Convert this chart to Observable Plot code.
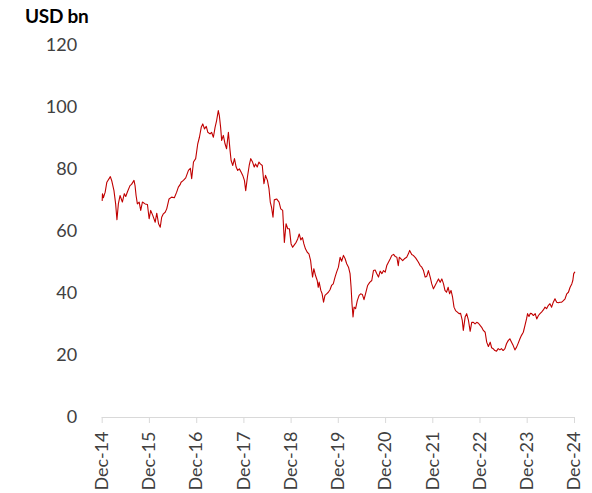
<!DOCTYPE html>
<html>
<head>
<meta charset="utf-8">
<script src="https://cdn.jsdelivr.net/npm/d3@7"></script>
<script src="https://cdn.jsdelivr.net/npm/@observablehq/plot@0.6"></script>
<style>
  html, body { margin: 0; padding: 0; background: #fff; }
  #wrap { position: relative; width: 592px; height: 493px; font-family: Lato, "Open Sans", sans-serif; }
  #title { position: absolute; left: 25px; top: 4px; font-size: 19px; font-weight: bold; color: #000; letter-spacing: -0.3px; }
  #chart { position: absolute; left: 0; top: 30px; }
</style>
</head>
<body>
<div id="wrap">
  <div id="title">USD bn</div>
  <div id="chart"></div>
</div>
<script>
const unitLabel = "USD bn";
const yTicks = [0, 20, 40, 60, 80, 100, 120];
const xTickDates = ["2014-12-01","2015-12-01","2016-12-01","2017-12-01","2018-12-01","2019-12-01","2020-12-01","2021-12-01","2022-12-01","2023-12-01","2024-12-01"];

const dates = [
"2014-12-01","2014-12-03","2014-12-10","2014-12-24","2015-01-06","2015-02-02","2015-02-14","2015-03-02","2015-03-15","2015-03-25",
"2015-04-05","2015-04-18","2015-05-06","2015-05-21","2015-06-01","2015-06-16","2015-07-04","2015-07-16","2015-08-04","2015-08-12",
"2015-08-20","2015-08-30","2015-09-13","2015-09-25","2015-10-08","2015-10-29","2015-11-16","2015-11-29","2015-12-11","2015-12-27",
"2016-01-15","2016-01-27","2016-02-10","2016-02-23","2016-03-05","2016-03-18","2016-04-01","2016-04-13","2016-05-01","2016-05-21",
"2016-06-11","2016-06-29","2016-07-12","2016-07-27","2016-08-02","2016-08-20","2016-09-07","2016-09-28","2016-10-13","2016-10-23",
"2016-11-06","2016-11-23","2016-12-09","2016-12-22","2017-01-05","2017-01-17","2017-01-30","2017-02-13","2017-02-25","2017-03-14",
"2017-03-26","2017-04-09","2017-04-22","2017-05-04","2017-05-17","2017-05-25","2017-06-04","2017-06-12","2017-06-25","2017-07-08",
"2017-07-20","2017-08-03","2017-08-16","2017-08-24","2017-09-06","2017-09-19","2017-10-02","2017-10-14","2017-10-27","2017-11-10",
"2017-11-22","2017-12-05","2017-12-15","2017-12-28","2018-01-11","2018-01-23","2018-02-06","2018-02-19","2018-03-01","2018-03-14",
"2018-03-27","2018-04-07","2018-04-22","2018-05-05","2018-05-17","2018-06-01","2018-06-13","2018-06-23","2018-07-03","2018-07-14",
"2018-07-24","2018-08-11","2018-08-30","2018-09-12","2018-09-27","2018-10-10","2018-10-23","2018-11-05","2018-11-18","2018-12-01",
"2018-12-13","2018-12-26","2019-01-09","2019-01-21","2019-02-02","2019-02-14","2019-02-27","2019-03-10","2019-03-22","2019-04-05",
"2019-04-18","2019-05-01","2019-05-08","2019-05-16","2019-05-26","2019-06-08","2019-06-21","2019-06-29","2019-07-06","2019-07-19",
"2019-07-29","2019-08-09","2019-08-20","2019-09-02","2019-09-15","2019-09-28","2019-10-10","2019-10-23","2019-11-06","2019-11-18",
"2019-12-02","2019-12-15","2019-12-27","2020-01-10","2020-01-23","2020-02-04","2020-02-18","2020-03-01","2020-03-09","2020-03-16",
"2020-03-24","2020-04-01","2020-04-13","2020-04-26","2020-05-10","2020-05-22","2020-06-04","2020-06-17","2020-06-30","2020-07-15",
"2020-07-31","2020-08-16","2020-08-29","2020-09-11","2020-09-24","2020-10-07","2020-10-20","2020-11-02","2020-11-15","2020-11-28",
"2020-12-10","2020-12-23","2021-01-06","2021-01-18","2021-02-01","2021-02-14","2021-02-26","2021-03-09","2021-03-17","2021-03-30",
"2021-04-12","2021-04-25","2021-05-13","2021-05-26","2021-06-05","2021-06-21","2021-07-03","2021-07-21","2021-08-12","2021-08-25",
"2021-09-07","2021-09-20","2021-10-03","2021-10-15","2021-10-28","2021-11-11","2021-11-23","2021-12-06","2021-12-19","2022-01-01",
"2022-01-14","2022-01-27","2022-02-09","2022-02-22","2022-03-05","2022-03-17","2022-03-30","2022-04-10","2022-04-21","2022-05-03",
"2022-05-14","2022-05-26","2022-06-09","2022-06-22","2022-07-04","2022-07-17","2022-07-25","2022-08-08","2022-08-20","2022-09-03",
"2022-09-16","2022-09-28","2022-10-11","2022-10-24","2022-11-06","2022-11-19","2022-12-02","2022-12-14","2022-12-27","2023-01-10",
"2023-01-22","2023-02-04","2023-02-18","2023-03-01","2023-03-13","2023-03-26","2023-04-08","2023-04-21","2023-05-04","2023-05-16",
"2023-05-29","2023-06-12","2023-06-24","2023-07-07","2023-07-20","2023-08-02","2023-08-15","2023-08-28","2023-09-10","2023-09-23",
"2023-10-06","2023-10-18","2023-11-01","2023-11-14","2023-11-26","2023-12-04","2023-12-15","2023-12-25","2024-01-05","2024-01-18",
"2024-02-01","2024-02-13","2024-02-26","2024-03-09","2024-03-21","2024-04-04","2024-04-17","2024-04-29","2024-05-12","2024-05-25",
"2024-06-07","2024-06-20","2024-07-03","2024-07-16","2024-07-29","2024-08-11","2024-08-24","2024-09-06","2024-09-19","2024-10-02",
"2024-10-15","2024-10-28","2024-11-10","2024-11-18","2024-11-25","2024-12-03"
];

const values = [
70.0,72.2,70.9,72.7,75.9,77.7,76.2,73.2,68.9,63.8,
68.9,71.6,69.5,72.2,71.3,73.0,74.8,75.2,76.5,74.8,
71.6,68.9,69.5,66.8,69.5,68.9,68.7,64.1,66.8,65.2,
63.0,65.9,62.5,61.4,64.6,65.7,66.2,67.3,70.5,71.1,
70.9,72.7,74.3,75.2,75.9,76.5,77.3,79.7,80.4,77.0,
82.4,83.5,88.3,90.4,93.6,94.7,93.1,93.9,92.0,91.5,
92.0,90.4,93.6,95.8,99.0,97.4,93.6,89.4,91.0,88.3,
86.7,92.0,86.1,82.9,81.3,83.5,80.8,79.7,80.2,79.1,
78.1,76.5,73.2,77.5,81.3,83.5,82.4,80.8,81.8,80.8,
82.4,81.8,81.3,75.4,78.1,76.5,73.8,69.5,67.8,64.6,
70.2,70.5,69.5,67.3,66.8,56.5,62.5,60.9,60.9,56.0,
54.9,55.7,56.5,57.6,59.2,57.3,58.0,56.0,54.4,53.3,
52.8,50.6,48.0,45.3,48.0,45.8,44.2,42.0,43.7,41.0,
39.9,37.2,39.4,39.9,40.4,41.2,42.6,43.1,45.3,46.9,
48.5,51.7,50.4,52.3,51.2,49.6,48.5,46.4,42.0,36.7,
32.4,35.6,35.1,37.7,39.4,39.9,39.7,38.0,40.1,42.6,
43.6,44.2,47.4,47.6,46.4,45.3,47.2,46.4,47.4,46.9,
49.0,50.1,51.2,52.3,52.6,51.9,51.7,49.0,51.7,51.2,
50.6,51.2,51.7,52.8,53.9,52.6,52.3,51.5,50.1,49.0,
48.5,47.4,45.3,45.5,47.4,45.3,43.1,41.5,42.6,43.6,
44.7,43.6,44.7,43.1,41.0,40.4,42.0,39.9,41.0,38.8,
35.6,34.5,34.0,33.5,33.6,31.3,28.1,32.4,33.5,31.3,
27.8,30.7,30.7,30.2,30.7,30.4,29.7,29.1,28.1,27.5,
24.3,22.9,24.3,22.5,22.2,21.6,21.4,22.2,21.8,22.2,
21.6,22.2,23.8,24.8,25.4,24.3,23.2,21.8,22.7,24.0,
25.4,26.5,27.5,29.7,31.8,33.5,32.6,33.6,33.5,32.9,
33.5,31.8,32.9,33.5,34.0,34.7,35.6,35.1,36.1,36.7,
35.6,37.2,38.3,37.2,37.0,37.2,37.2,37.7,38.3,39.9,
40.4,42.0,43.1,44.2,46.4,46.9
];

const parse = d3.utcParse("%Y-%m-%d");
const data = dates.map((d, i) => ({date: parse(d), value: values[i]}));
const xTicks = xTickDates.map(parse);

document.getElementById("title").textContent = unitLabel;

const chart = Plot.plot({
  width: 592,
  height: 463,
  marginTop: 15,
  marginBottom: 76,
  marginLeft: 101.7,
  marginRight: 18,
  style: {fontFamily: "Lato, 'Open Sans', sans-serif", background: "#fff", overflow: "visible"},
  x: {type: "utc", domain: [xTicks[0], xTicks[xTicks.length - 1]]},
  y: {domain: [0, 120]},
  marks: [
    Plot.ruleY([0], {stroke: "#d9d9d9", strokeWidth: 1.2}),
    Plot.axisY({ticks: yTicks, tickSize: 0, tickPadding: 25, label: null, fontSize: 18, color: "#404040"}),
    Plot.axisX({ticks: xTicks, tickFormat: d3.utcFormat("%b-%y"), tickRotate: -90, tickSize: 6, tickPadding: 8, label: null, fontSize: 18, color: "#404040", stroke: "#d9d9d9"}),
    Plot.line(data, {x: "date", y: "value", stroke: "#c00000", strokeWidth: 1.1})
  ]
});
document.getElementById("chart").appendChild(chart);
</script>
</body>
</html>
